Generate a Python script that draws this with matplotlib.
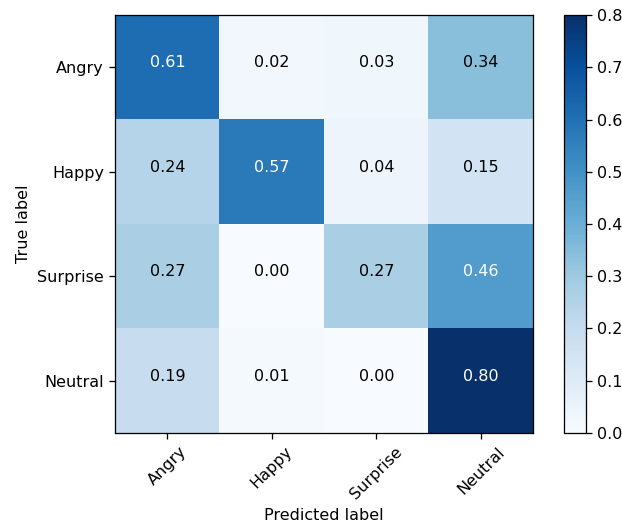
import numpy as np
import matplotlib
matplotlib.use("Agg")
import matplotlib.pyplot as plt

classes = ["Angry", "Happy", "Surprise", "Neutral"]
cm = np.array([
    [0.61, 0.02, 0.03, 0.34],
    [0.24, 0.57, 0.04, 0.15],
    [0.27, 0.00, 0.27, 0.46],
    [0.19, 0.01, 0.00, 0.80],
])

dpi = 115
fig = plt.figure(figsize=(622 / dpi, 524 / dpi), dpi=dpi)
ax = fig.add_axes([0.185, 0.174, 0.672, 0.797])
cax = fig.add_axes([0.907, 0.174, 0.035, 0.797])

im = ax.imshow(cm, interpolation="nearest", cmap=plt.cm.Blues, aspect="auto")
fig.colorbar(im, cax=cax)

ticks = np.arange(len(classes))
ax.set_xticks(ticks)
ax.set_xticklabels(classes, rotation=45)
ax.set_yticks(ticks)
ax.set_yticklabels(classes)

# numbers sit on the cell centre baseline, white on the dark cells
thresh = cm.max() / 2.
for i in range(cm.shape[0]):
    for j in range(cm.shape[1]):
        ax.text(j, i, format(cm[i, j], ".2f"),
                horizontalalignment="center",
                color="white" if cm[i, j] > thresh else "black")

ax.set_ylabel("True label")
ax.set_xlabel("Predicted label")

fig.savefig("out.png", dpi=dpi)
